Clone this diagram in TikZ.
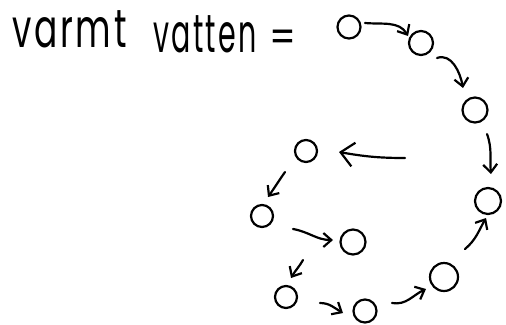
\documentclass[tikz,border=0pt]{standalone}
\usepackage{fontspec}
\setmainfont{Poppins}[LetterSpace=8]
\usetikzlibrary{arrows.meta}
\tikzset{
  dot/.style={draw, circle, line width=2.2pt, inner sep=0pt},
  hand/.style={line width=2.2pt, line cap=round, line join=round,
    -{Straight Barb[length=8bp,width=14bp,line width=2.2pt]}},
  bighand/.style={hand, -{Straight Barb[length=13bp,width=24bp,line width=2.2pt]}},
  word/.style={anchor=base west, inner sep=0pt, font=\fontsize{54}{58}\selectfont}
}
\begin{document}
\begin{tikzpicture}[x=1bp, y=-1bp]
\useasboundingbox (0,0) rectangle (506,324);
% text
\node[word] (w1) at (12,47) {\scalebox{0.64}[1]{varmt}};
\node[word] (w2) at (153,52) {\scalebox{0.53}[1]{vatten}};
\node[word, anchor=center, font=\fontsize{44}{48}\selectfont] (w3) at (283,41) {\scalebox{0.85}[1]{=}};
% circles
\node[dot, minimum size=23bp] (c1) at (349,27) {};
\node[dot, minimum size=24bp] (c2) at (421,43) {};
\node[dot, minimum size=25bp] (c3) at (475,110) {};
\node[dot, minimum size=26bp] (c4) at (488,201) {};
\node[dot, minimum size=28bp] (c5) at (444,277) {};
\node[dot, minimum size=23bp] (c6) at (365,311) {};
\node[dot, minimum size=22bp] (c7) at (286,297) {};
\node[dot, minimum size=25bp] (c8) at (353,242) {};
\node[dot, minimum size=22bp] (c9) at (262,216) {};
\node[dot, minimum size=22bp] (c10) at (306,151) {};
% arrow ends
\coordinate (a1s) at (365,23); \coordinate (a1e) at (408,36);
\coordinate (a2s) at (437,58); \coordinate (a2e) at (463,88);
\coordinate (a3s) at (487,134); \coordinate (a3e) at (491,174);
\coordinate (a4s) at (465,249); \coordinate (a4e) at (486,218);
\coordinate (a5s) at (392,303); \coordinate (a5e) at (426,289);
\coordinate (a6s) at (320,303); \coordinate (a6e) at (343,313);
\coordinate (a7s) at (303,260); \coordinate (a7e) at (291,278);
\coordinate (a8s) at (293,229); \coordinate (a8e) at (333,240);
\coordinate (a9s) at (285,172); \coordinate (a9e) at (268,197);
\coordinate (a10s) at (405,158); \coordinate (a10e) at (339,152);
% arrows
\draw[hand] (a1s) to[out=-5, in=120] (a1e);
\draw[hand] (a2s) to[out=20, in=100] (a2e);
\draw[hand] (a3s) to[out=-70, in=95] (a3e);
\draw[hand] (a4s) to[out=40, in=-120] (a4e);
\draw[hand] (a5s) to[out=-10, in=-155] (a5e);
\draw[hand] (a6s) to[out=0, in=150] (a6e);
\draw[hand] (a7s) to[out=-120, in=60] (a7e);
\draw[hand] (a8s) to[out=-10, in=180] (a8e);
\draw[hand] (a9s) to[out=-125, in=55] (a9e);
\draw[bighand] (a10s) to[out=180, in=-10] (a10e);
\end{tikzpicture}
\end{document}
